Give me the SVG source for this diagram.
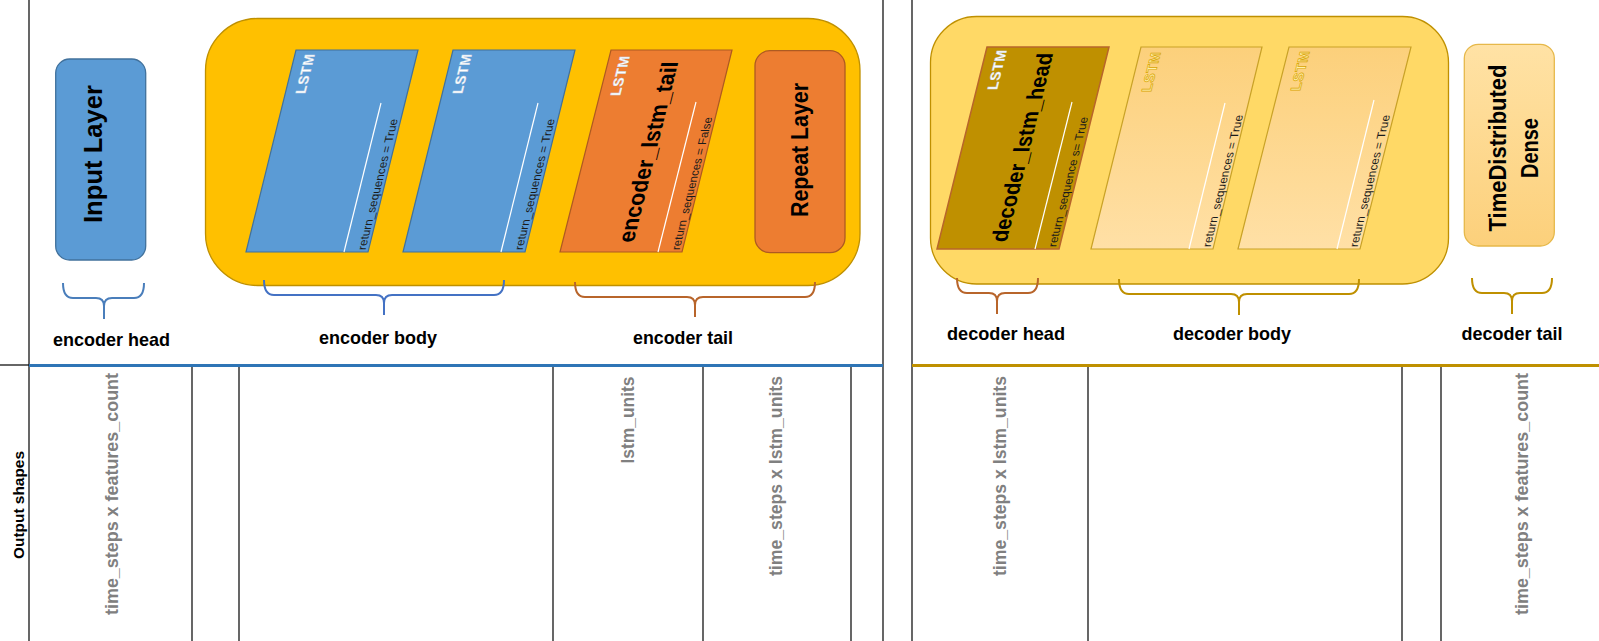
<svg xmlns="http://www.w3.org/2000/svg" width="1599" height="641" viewBox="0 0 1599 641">
<style>
text{font-family:"Liberation Sans",Arial,sans-serif}
.grid{stroke:#000;stroke-width:1.2;fill:none}
.lbl{font-size:19px;font-weight:bold;fill:#000;text-anchor:middle}
.big{font-weight:bold;fill:#000;text-anchor:middle}
.rs{font-size:11.5px;fill:#1a1a1a}
.lstm{font-size:14px;font-weight:bold;text-anchor:middle;fill:#fff;stroke:#c9d6e6;stroke-width:0.4}
.lstmy{font-size:14px;font-weight:bold;text-anchor:middle;fill:#FFF0A8;stroke:#D9A400;stroke-width:0.7}
.wl{stroke:#fff;stroke-width:1.2}
.shape{font-size:18px;font-weight:bold;fill:#808080;text-anchor:middle}
.brace{fill:none;stroke-width:2}
</style>
<defs>
<linearGradient id="gLight" x1="0" y1="0" x2="0" y2="1">
<stop offset="0" stop-color="#FCD07B"/>
<stop offset="1" stop-color="#FFE0A6"/>
</linearGradient>
<linearGradient id="gTD" x1="0" y1="0" x2="0" y2="1">
<stop offset="0" stop-color="#FFE2A5"/>
<stop offset="1" stop-color="#FCD07B"/>
</linearGradient>
</defs>
<rect width="1599" height="641" fill="#fff"/>
<g id="table">
<line class="grid" x1="29" y1="0" x2="29" y2="641"/>
<line class="grid" x1="883" y1="0" x2="883" y2="641"/>
<line class="grid" x1="912" y1="0" x2="912" y2="641"/>
<line class="grid" x1="0" y1="365" x2="29" y2="365"/>
<line x1="29" y1="365.5" x2="883" y2="365.5" stroke="#2E75B6" stroke-width="3"/>
<line x1="912" y1="365.5" x2="1599" y2="365.5" stroke="#BF9000" stroke-width="3"/>
<line class="grid" x1="192" y1="367" x2="192" y2="641"/>
<line class="grid" x1="239" y1="367" x2="239" y2="641"/>
<line class="grid" x1="553" y1="367" x2="553" y2="641"/>
<line class="grid" x1="703" y1="367" x2="703" y2="641"/>
<line class="grid" x1="851" y1="367" x2="851" y2="641"/>
<line class="grid" x1="1088" y1="367" x2="1088" y2="641"/>
<line class="grid" x1="1402" y1="367" x2="1402" y2="641"/>
<line class="grid" x1="1441" y1="367" x2="1441" y2="641"/>
<text transform="translate(24,505) rotate(-90)" font-size="14.5" font-weight="bold" text-anchor="middle" textLength="108" lengthAdjust="spacingAndGlyphs">Output shapes</text>
<text class="shape" transform="translate(117.5,494) rotate(-90)" textLength="242" lengthAdjust="spacingAndGlyphs">time_steps x features_count</text>
<text class="shape" transform="translate(634,420) rotate(-90)" textLength="87" lengthAdjust="spacingAndGlyphs">lstm_units</text>
<text class="shape" transform="translate(781.5,476) rotate(-90)" textLength="200" lengthAdjust="spacingAndGlyphs">time_steps x lstm_units</text>
<text class="shape" transform="translate(1005.5,476) rotate(-90)" textLength="200" lengthAdjust="spacingAndGlyphs">time_steps x lstm_units</text>
<text class="shape" transform="translate(1527.5,494) rotate(-90)" textLength="242" lengthAdjust="spacingAndGlyphs">time_steps x features_count</text>
</g>
<g id="encoder-container">
<rect x="205.5" y="18.5" width="654.5" height="267" rx="52" fill="#FFC000" stroke="#BF9000" stroke-width="1.3"/>
</g>
<g id="decoder-container">
<rect x="930.5" y="16.5" width="518" height="267.5" rx="46" fill="#FFD966" stroke="#BF9000" stroke-width="1.3"/>
</g>
<g id="input-layer">
<rect x="55.7" y="59" width="90" height="201" rx="14" fill="#5B9BD5" stroke="#41719C" stroke-width="1.3"/>
<text class="big" font-size="26" transform="translate(102,154) rotate(-90)" textLength="138" lengthAdjust="spacingAndGlyphs">Input Layer</text>
</g>
<g id="encoder-lstm-1">
<polygon points="296,50 418,50 368,252 246,252" fill="#5B9BD5" stroke="#41719C" stroke-width="1.2"/>
<line class="wl" x1="381" y1="103" x2="344" y2="252"/>
<text class="lstm" transform="translate(310,74) skewX(-13.9) rotate(-90)" textLength="40" lengthAdjust="spacing">LSTM</text>
<text class="rs" transform="translate(365.5,250) skewX(-13.9) rotate(-90)" textLength="131" lengthAdjust="spacingAndGlyphs">return_sequences = True</text>
</g>
<g id="encoder-lstm-2">
<polygon points="453,50 575,50 525,252 403,252" fill="#5B9BD5" stroke="#41719C" stroke-width="1.2"/>
<line class="wl" x1="538" y1="103" x2="501" y2="252"/>
<text class="lstm" transform="translate(467,74) skewX(-13.9) rotate(-90)" textLength="40" lengthAdjust="spacing">LSTM</text>
<text class="rs" transform="translate(522.5,250) skewX(-13.9) rotate(-90)" textLength="131" lengthAdjust="spacingAndGlyphs">return_sequences = True</text>
</g>
<g id="encoder-lstm-tail">
<polygon points="611,50 732,50 682,252 560,252" fill="#ED7D31" stroke="#AE5A21" stroke-width="1.2"/>
<line class="wl" x1="696" y1="102" x2="658" y2="252"/>
<text class="lstm" transform="translate(625,76) skewX(-13.9) rotate(-90)" textLength="40" lengthAdjust="spacing" stroke="#d9a080">LSTM</text>
<text class="big" font-size="23" transform="translate(656,152) skewX(-13.9) rotate(-90)" textLength="181" lengthAdjust="spacingAndGlyphs">encoder_lstm_tail</text>
<text class="rs" transform="translate(679.5,250) skewX(-13.9) rotate(-90)" textLength="133" lengthAdjust="spacingAndGlyphs">return_sequences = False</text>
</g>
<g id="repeat-layer">
<rect x="755" y="50.7" width="90" height="202" rx="15" fill="#ED7D31" stroke="#AE5A21" stroke-width="1.3"/>
<text class="big" font-size="24" transform="translate(808,150) rotate(-90)" textLength="134" lengthAdjust="spacingAndGlyphs">Repeat Layer</text>
</g>
<g id="decoder-lstm-head">
<polygon points="987,47 1109,47 1059,249 937,249" fill="#BF9000" stroke="#B8652B" stroke-width="1.5"/>
<line class="wl" x1="1072" y1="102" x2="1035" y2="249"/>
<text class="lstm" transform="translate(1002,70) skewX(-13.9) rotate(-90)" textLength="40" lengthAdjust="spacing" stroke="#e8d9a0">LSTM</text>
<text class="big" font-size="22.5" transform="translate(1030,147.5) skewX(-13.9) rotate(-90)" textLength="189" lengthAdjust="spacingAndGlyphs">decoder_lstm_head</text>
<text class="rs" transform="translate(1056,247) skewX(-13.9) rotate(-90)" textLength="130" lengthAdjust="spacingAndGlyphs">return_sequence s= True</text>
</g>
<g id="decoder-lstm-1">
<polygon points="1141,47 1262,47 1213,249 1091,249" fill="url(#gLight)" stroke="#C9A227" stroke-width="1.2"/>
<line class="wl" x1="1225" y1="103" x2="1189" y2="249"/>
<text class="lstmy" transform="translate(1156,72) skewX(-13.9) rotate(-90)" textLength="40" lengthAdjust="spacing">LSTM</text>
<text class="rs" transform="translate(1210.5,247) skewX(-13.9) rotate(-90)" textLength="132" lengthAdjust="spacingAndGlyphs">return_sequences = True</text>
</g>
<g id="decoder-lstm-2">
<polygon points="1289,47 1411,47 1360,249 1238,249" fill="url(#gLight)" stroke="#C9A227" stroke-width="1.2"/>
<line class="wl" x1="1374" y1="100" x2="1337" y2="249"/>
<text class="lstmy" transform="translate(1305,71) skewX(-13.9) rotate(-90)" textLength="40" lengthAdjust="spacing">LSTM</text>
<text class="rs" transform="translate(1357.5,247) skewX(-13.9) rotate(-90)" textLength="132" lengthAdjust="spacingAndGlyphs">return_sequences = True</text>
</g>
<g id="time-distributed-dense">
<rect x="1464.3" y="44.3" width="90" height="201.7" rx="14" fill="url(#gTD)" stroke="#E6B84A" stroke-width="1.3"/>
<text class="big" font-size="24" transform="translate(1506,148) rotate(-90)" textLength="167" lengthAdjust="spacingAndGlyphs">TimeDistributed</text>
<text class="big" font-size="24" transform="translate(1538,148) rotate(-90)" textLength="60" lengthAdjust="spacingAndGlyphs">Dense</text>
</g>
<g id="connectors">
<path class="brace" stroke="#4A7EBB" d="M63 283 Q63 298 73 298 L96 298 Q104 298 104 306 L104 319 M104 306 Q104 298 112 298 L134 298 Q144 298 144 283"/>
<path class="brace" stroke="#4472C4" d="M264 280 Q264 295 274 295 L376 295 Q384 295 384 303 L384 315 M384 303 Q384 295 392 295 L494 295 Q504 295 504 280"/>
<path class="brace" stroke="#B8652B" d="M575 282 Q575 297 585 297 L687 297 Q695 297 695 305 L695 317 M695 305 Q695 297 703 297 L805 297 Q815 297 815 282"/>
<path class="brace" stroke="#B8652B" d="M957 278 Q957 293 967 293 L989 293 Q997 293 997 301 L997 314 M997 301 Q997 293 1005 293 L1028 293 Q1038 293 1038 278"/>
<path class="brace" stroke="#BF9000" d="M1119 279 Q1119 294 1129 294 L1231 294 Q1239 294 1239 302 L1239 315 M1239 302 Q1239 294 1247 294 L1349 294 Q1359 294 1359 279"/>
<path class="brace" stroke="#BF9000" d="M1472 278 Q1472 293 1482 293 L1504 293 Q1512 293 1512 301 L1512 314 M1512 301 Q1512 293 1520 293 L1542 293 Q1552 293 1552 278"/>
</g>
<g id="labels">
<text class="lbl" x="111.5" y="346" textLength="117" lengthAdjust="spacingAndGlyphs">encoder head</text>
<text class="lbl" x="378" y="344" textLength="118" lengthAdjust="spacingAndGlyphs">encoder body</text>
<text class="lbl" x="683" y="344" textLength="100" lengthAdjust="spacingAndGlyphs">encoder tail</text>
<text class="lbl" x="1006" y="340" textLength="118" lengthAdjust="spacingAndGlyphs">decoder head</text>
<text class="lbl" x="1232" y="340" textLength="118" lengthAdjust="spacingAndGlyphs">decoder body</text>
<text class="lbl" x="1512" y="340" textLength="101" lengthAdjust="spacingAndGlyphs">decoder tail</text>
</g>
</svg>
